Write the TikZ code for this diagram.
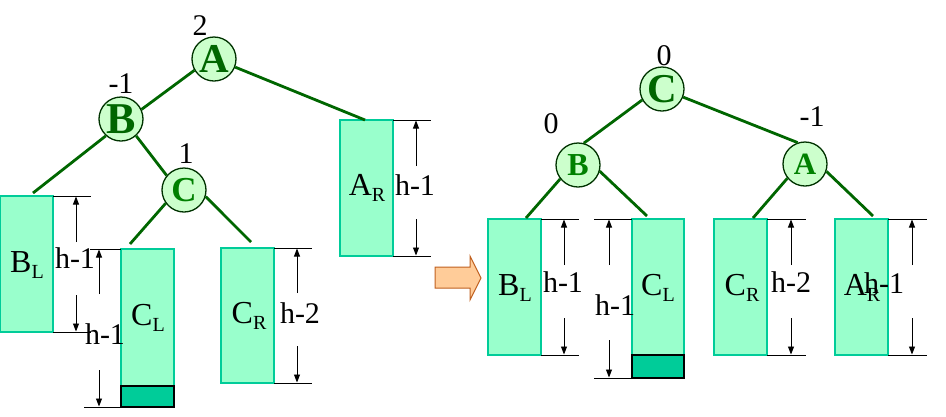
\documentclass[tikz,border=0pt]{standalone}
\usepackage{fontspec}
\setmainfont{Liberation Serif}
\usetikzlibrary{arrows.meta}
\definecolor{edgegreen}{HTML}{006600}
\definecolor{lettergreen}{HTML}{008000}
\definecolor{circfill}{HTML}{CCFFCC}
\definecolor{circline}{HTML}{003300}
\definecolor{boxfill}{HTML}{99FFCC}
\definecolor{boxline}{HTML}{00CC99}
\definecolor{darkbox}{HTML}{00CC99}
\definecolor{arrfill}{HTML}{FFCC99}
\definecolor{arrline}{HTML}{C0601F}
\newcommand\mysub[1]{\raisebox{-6pt}{\fontsize{20}{20}\selectfont #1}}
\newcommand\fs[1]{\fontsize{#1}{#1}\selectfont}
\tikzset{
  treenode/.style={circle,draw=circline,line width=1.3pt,fill=circfill,minimum size=44pt,inner sep=0pt,font=\bfseries},
  treeedge/.style={draw=edgegreen,line width=2.8pt},
  subtree/.style={draw=boxline,fill=boxfill,line width=1.2pt},
  grown/.style={draw=black,fill=darkbox,line width=1.2pt},
  dimline/.style={draw=black,line width=1pt},
  dimarrow/.style={draw=black,line width=0.9pt,-{Triangle[length=8pt,width=6pt]}},
  lbl/.style={inner sep=0pt,anchor=base,font=\fs{30}},
  boxlbl/.style={inner sep=0pt,anchor=base,font=\fs{32}},
}
\begin{document}
\begin{tikzpicture}[x=1pt,y=-1pt]
\useasboundingbox (0,0) rectangle (946,416);
% ---------------- left tree: subtrees ----------------
\draw[subtree] (0.8,196) rectangle (53,332);
\draw[subtree] (121,249) rectangle (174,386);
\draw[grown] (121,386) rectangle (174,407);
\draw[subtree] (221,248) rectangle (274,383);
\draw[subtree] (340,120) rectangle (393,256);
% dimensions left
\draw[dimline] (53,196) -- (91,196) (53,332) -- (91,332);
\draw[dimarrow] (76,242) -- (76,196.5);
\draw[dimarrow] (76,295) -- (76,331.5);
\draw[dimline] (90,249) -- (121,249) (84,407) -- (121,407);
\draw[dimarrow] (99,294) -- (99,249.5);
\draw[dimarrow] (99,370) -- (99,406.5);
\draw[dimline] (274,248) -- (312,248) (274,383) -- (312,383);
\draw[dimarrow] (297,293) -- (297,248.5);
\draw[dimarrow] (297,346) -- (297,382.5);
\draw[dimline] (393,120) -- (431,120) (393,256) -- (431,256);
\draw[dimarrow] (416,166) -- (416,120.5);
\draw[dimarrow] (416,219) -- (416,255.5);
% labels left
\node[boxlbl] (lbl) at (27,272) {B\mysub{L}};
\node[boxlbl] (lcl) at (148,325) {C\mysub{L}};
\node[boxlbl] (lcr) at (249,323) {C\mysub{R}};
\node[boxlbl] (lar) at (367,195) {A\mysub{R}};
\node[lbl] (lh1) at (75,268) {h-1};
\node[lbl] (lh2) at (105,344) {h-1};
\node[lbl] (lh3) at (300,323) {h-2};
\node[lbl] (lh4) at (415,195) {h-1};
% tree nodes left
\node[treenode,font=\bfseries\fs{41}\color{edgegreen}] (A) at (214,59) {A};
\node[treenode,font=\bfseries\fs{44}\color{edgegreen}] (B) at (121,119) {B};
\node[treenode,font=\bfseries\fs{35}\color{lettergreen}] (C) at (184,190) {C};
\node[lbl] (bA) at (200,35) {2};
\node[lbl] (bB) at (121,93) {-1};
\node[lbl] (bC) at (186,163) {1};
\coordinate (lblt) at (33,193);
\coordinate (lclt) at (130,244);
\coordinate (lcrt) at (251,242);
\coordinate (lart) at (365,120);
\draw[treeedge] (A.210) -- (B.25);
\draw[treeedge] (A.-21) -- (lart);
\draw[treeedge] (B.228) -- (lblt);
\draw[treeedge] (B.-48) -- (C.140);
\draw[treeedge] (C.216) -- (lclt);
\draw[treeedge] (C.-17) -- (lcrt);
% ---------------- block arrow ----------------
\draw[fill=arrfill,draw=arrline,line width=1pt] (435,267) -- (470,267) -- (470,256) -- (481,278) -- (470,300) -- (470,288) -- (435,288) -- cycle;
% ---------------- right tree: subtrees ----------------
\draw[subtree] (488,219) rectangle (541,355);
\draw[subtree] (632,219) rectangle (684,355);
\draw[grown] (632,355) rectangle (684,378);
\draw[subtree] (714,219) rectangle (767,355);
\draw[subtree] (835,219) rectangle (888,355);
\draw[dimline] (541,219) -- (579,219) (541,355) -- (579,355);
\draw[dimarrow] (564,265) -- (564,219.5);
\draw[dimarrow] (564,318) -- (564,354.5);
\draw[dimline] (594,219) -- (632,219) (594,378) -- (632,378);
\draw[dimarrow] (609,265) -- (609,219.5);
\draw[dimarrow] (609,340) -- (609,377.5);
\draw[dimline] (767,219) -- (806,219) (767,355) -- (806,355);
\draw[dimarrow] (791,265) -- (791,219.5);
\draw[dimarrow] (791,318) -- (791,354.5);
\draw[dimline] (888,219) -- (927,219) (888,355) -- (927,355);
\draw[dimarrow] (912,265) -- (912,219.5);
\draw[dimarrow] (912,318) -- (912,354.5);
\node[boxlbl] (rbl) at (515,295) {B\mysub{L}};
\node[boxlbl] (rcl) at (658,295) {C\mysub{L}};
\node[boxlbl] (rcr) at (742,295) {C\mysub{R}};
\node[boxlbl] (rar) at (862,295) {A\mysub{R}};
\node[lbl] (rh1) at (563,292) {h-1};
\node[lbl] (rh2) at (615,315) {h-1};
\node[lbl] (rh3) at (791,292) {h-2};
\node[lbl] (rh4) at (884,293) {h-1};
\node[treenode,font=\bfseries\fs{41}\color{edgegreen}] (C2) at (662,89) {C};
\node[treenode,font=\bfseries\fs{32}\color{lettergreen}] (B2) at (578,165) {B};
\node[treenode,font=\bfseries\fs{31}\color{lettergreen}] (A2) at (805,164) {A};
\node[lbl] (bC2) at (664,65) {0};
\node[lbl] (bB2) at (551,133) {0};
\node[lbl] (bA2) at (812,126) {-1};
\coordinate (rblt) at (526,218);
\coordinate (rclt) at (647,216);
\coordinate (rcrt) at (753,218);
\coordinate (rart) at (873,216);
\draw[treeedge] (C2.209) -- (B2.75);
\draw[treeedge] (C2.-21) -- (A2.109);
\draw[treeedge] (B2.218) -- (rblt);
\draw[treeedge] (B2.-16) -- (rclt);
\draw[treeedge] (A2.219) -- (rcrt);
\draw[treeedge] (A2.-19) -- (rart);
\end{tikzpicture}
\end{document}
